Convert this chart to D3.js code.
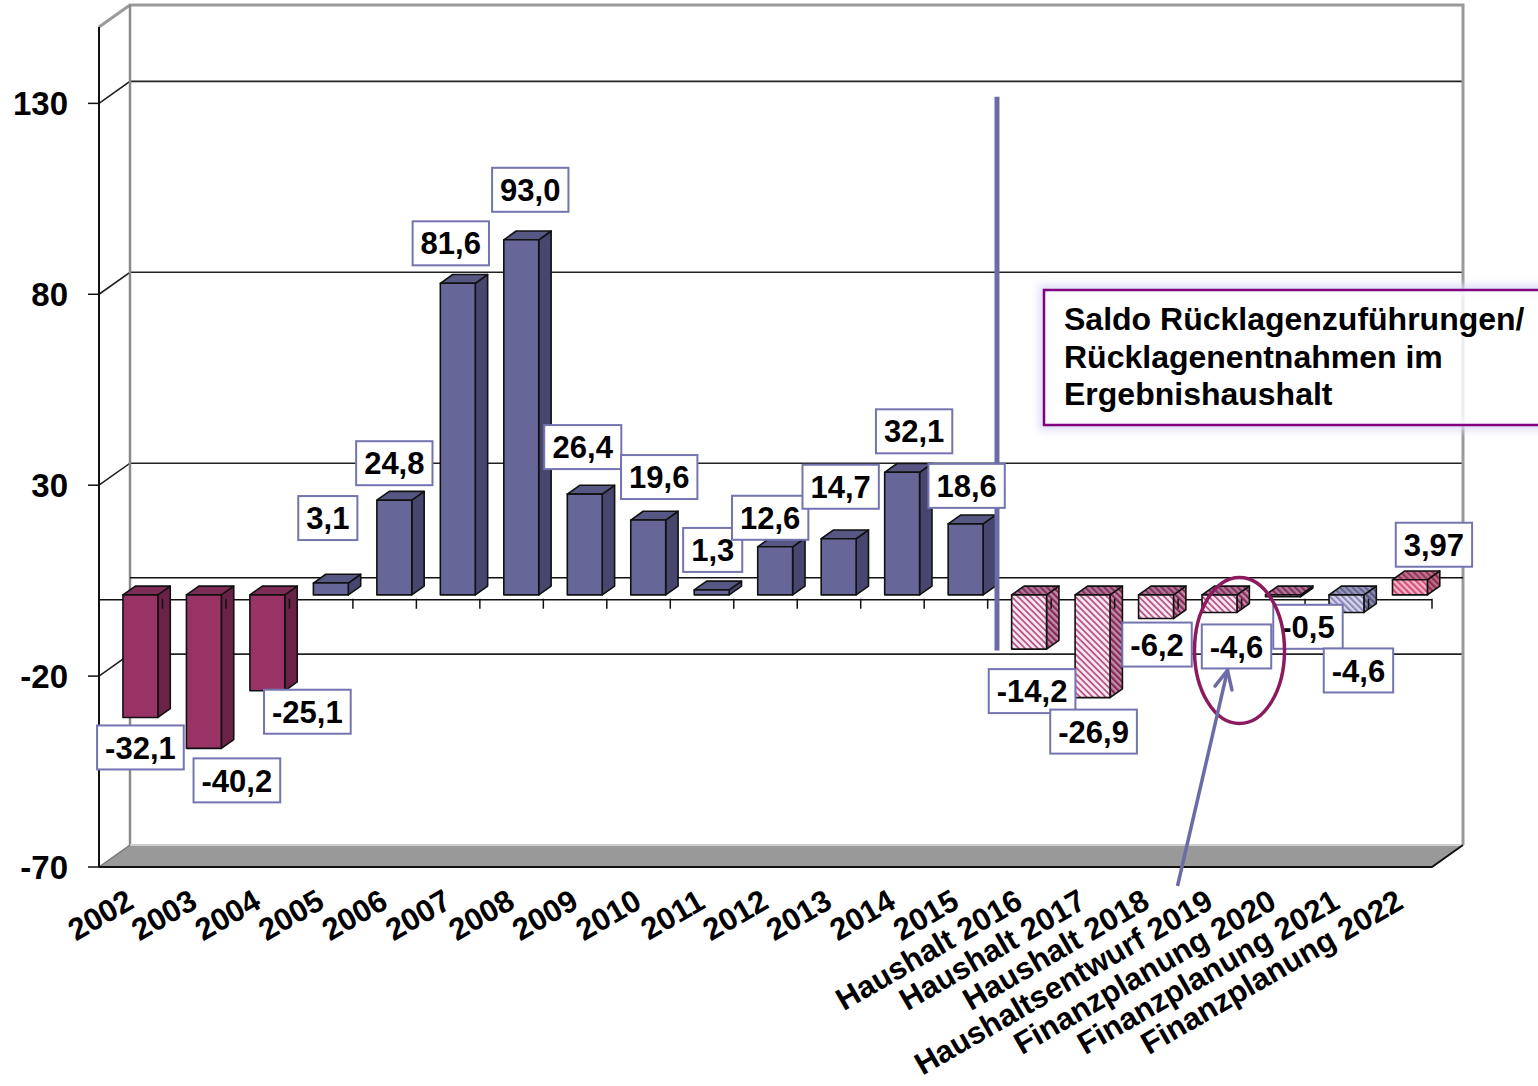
<!DOCTYPE html>
<html><head><meta charset="utf-8">
<script src="https://cdn.jsdelivr.net/npm/d3@7"></script>
<style>
body{margin:0;background:#fff}
svg{display:block}
text{font-family:"Liberation Sans",Arial,sans-serif;font-weight:bold;fill:#000}
</style>
</head><body>
<svg id="c" width="1538" height="1086"></svg>
<script>
// ---------------- DATA ----------------
const categories = ["2002","2003","2004","2005","2006","2007","2008","2009","2010","2011","2012","2013","2014","2015",
  "Haushalt 2016","Haushalt 2017","Haushalt 2018","Haushaltsentwurf 2019","Finanzplanung 2020","Finanzplanung 2021","Finanzplanung 2022"];
const values = [-32.1,-40.2,-25.1,3.1,24.8,81.6,93.0,26.4,19.6,1.3,12.6,14.7,32.1,18.6,-14.2,-26.9,-6.2,-4.6,-0.5,-4.6,3.97];
const valueLabels = ["-32,1","-40,2","-25,1","3,1","24,8","81,6","93,0","26,4","19,6","1,3","12,6","14,7","32,1","18,6",
  "-14,2","-26,9","-6,2","-4,6","-0,5","-4,6","3,97"];
const plannedCategories = ["Haushalt 2016","Haushalt 2017","Haushalt 2018","Haushaltsentwurf 2019","Finanzplanung 2020","Finanzplanung 2021","Finanzplanung 2022"];
const yTicks = [-70,-20,30,80,130];
const yDomain = [-70,150];
const legendLines = ["Saldo Rücklagenzuführungen/","Rücklagenentnahmen im","Ergebnishaushalt"];
const highlightedCategory = "Haushaltsentwurf 2019";

// ---------------- LAYOUT ----------------
const back = {left:130, right:1463, top:5, bottom:845};
const DX = -31, DY = 22;            // depth vector back -> front
const tFront = 0.78, tBack = 0.38;  // bar depth
const barL = 0.27, barR = 0.82;     // bar position inside band
// per-label nudges (px) of the label box centre relative to bar top
const labelDx = [0,33,40,-3,0,-7,9,-2,11,1,-5,2,12,1,3,1,1,17,25,12,24];
const labelDy = [30,32,21,-65,-37,-40,-50,-47,-43,-40,-29,-52,-41,-38,42,34,26,34,30,58,-35];

const svg = d3.select("#c");
const x = d3.scaleBand().domain(categories).range([back.left, back.right]);
const y = d3.scaleLinear().domain(yDomain).range([back.bottom, back.top]);
const step = x.step();
const P = (px, v, t) => [px + DX*t, y(v) + DY*t];
const pts = a => a.map(p => p.join(",")).join(" ");

// ---------------- PATTERNS ----------------
const defs = svg.append("defs");
function hatch(id, bg, fg, size, w){
  const p = defs.append("pattern").attr("id",id).attr("patternUnits","userSpaceOnUse")
    .attr("width",size).attr("height",size).attr("patternTransform","rotate(-45)");
  p.append("rect").attr("width",size).attr("height",size).attr("fill",bg);
  p.append("rect").attr("width",w).attr("height",size).attr("fill",fg);
}
hatch("pinkF","#f8e6ee","#b8588a",4.5,1.8);
hatch("pinkS","#c98aa6","#7e2d57",4.5,2.2);
hatch("pinkT","#b77796","#7d3560",4.5,2.2);
hatch("redF","#f6b8c8","#d2507a",4.5,2.2);
hatch("redS","#c26b86","#8a2f52",4.5,2.2);
hatch("redT","#c7708e","#8e3a5c",4.5,2.2);
hatch("blueF","#d8d8ec","#8a8ab8",4.5,2.2);
hatch("blueS","#8e8eb2","#585880",4.5,2.2);
hatch("blueT","#9a9ac0","#666690",4.5,2.2);
const glow = defs.append("filter").attr("id","glow").attr("x","-10%").attr("y","-20%").attr("width","120%").attr("height","140%");
glow.append("feGaussianBlur").attr("stdDeviation",4);

const styles = {
  neg:{front:"#993366",side:"#6a2347",top:"#7d2c55"},
  pos:{front:"#666699",side:"#46466e",top:"#575783"},
  plan:{front:"url(#pinkF)",side:"url(#pinkS)",top:"url(#pinkT)"},
  planBlue:{front:"url(#blueF)",side:"url(#blueS)",top:"url(#blueT)"},
  planRed:{front:"url(#redF)",side:"url(#redS)",top:"url(#redT)"}
};
function styleFor(c,v){
  if (plannedCategories.includes(c)){
    if (c === "Finanzplanung 2021") return styles.planBlue;
    if (c === "Finanzplanung 2022") return styles.planRed;
    return styles.plan;
  }
  return v < 0 ? styles.neg : styles.pos;
}

// ---------------- WALLS ----------------
const [y0,y1] = yDomain;
svg.append("rect").attr("width",1538).attr("height",1086).attr("fill","#fff");
// floor
svg.append("polygon").attr("points", pts([P(back.left,y0,0),P(back.right,y0,0),P(back.right,y0,1),P(back.left,y0,1)]))
  .attr("fill","#999999");
// gridlines
yTicks.filter(v=>v>y0).forEach(v=>{
  svg.append("polyline").attr("points", pts([P(back.left,v,1),P(back.left,v,0),P(back.right,v,0)]))
    .attr("fill","none").attr("stroke","#222").attr("stroke-width",1.6);
});
// back wall edges (grey)
svg.append("polyline").attr("points", pts([P(back.left,y1,1),P(back.left,y1,0),P(back.right,y1,0),P(back.right,y0,0)]))
  .attr("fill","none").attr("stroke","#9a9a9a").attr("stroke-width",3);
svg.append("line").attr("x1",back.left).attr("x2",back.left).attr("y1",y(y1)).attr("y2",y(y0))
  .attr("stroke","#8a8a8a").attr("stroke-width",2.5);
svg.append("line").attr("x1",back.left).attr("x2",back.right).attr("y1",y(y0)).attr("y2",y(y0))
  .attr("stroke","#cfcfcf").attr("stroke-width",2);
svg.append("line").attr("x1",P(back.left,y0,0)[0]).attr("y1",P(back.left,y0,0)[1]).attr("x2",P(back.left,y0,1)[0]).attr("y2",P(back.left,y0,1)[1])
  .attr("stroke","#777").attr("stroke-width",1.5);
// floor front edge and right diagonal
svg.append("polyline").attr("points", pts([P(back.left,y0,1),P(back.right,y0,1),P(back.right,y0,0)]))
  .attr("fill","none").attr("stroke","#111").attr("stroke-width",2);
// value axis
svg.append("line").attr("x1",back.left+DX).attr("x2",back.left+DX).attr("y1",y(y1)+DY).attr("y2",y(y0)+DY)
  .attr("stroke","#111").attr("stroke-width",2);
yTicks.forEach(v=>{
  const yy = y(v)+DY;
  svg.append("line").attr("x1",back.left+DX-11).attr("x2",back.left+DX).attr("y1",yy).attr("y2",yy).attr("stroke","#111").attr("stroke-width",1.5);
  svg.append("text").attr("x",68).attr("y",yy).attr("dy","0.36em").attr("text-anchor","end")
    .style("font-size","33px").text(v);
});
// zero plane lines
svg.append("line").attr("x1",back.left).attr("x2",back.right).attr("y1",y(0)).attr("y2",y(0)).attr("stroke","#111").attr("stroke-width",1.5);
svg.append("line").attr("x1",back.left+DX).attr("x2",back.right+DX).attr("y1",y(0)+DY).attr("y2",y(0)+DY).attr("stroke","#111").attr("stroke-width",1.5);

// ---------------- BARS ----------------
const barsG = svg.append("g");
categories.forEach((c,i)=>{
  const v = values[i], s = styleFor(c,v);
  const xl = x(c) + barL*step, xr = x(c) + barR*step;
  const vt = Math.max(v,0), vb = Math.min(v,0);
  const FLT = P(xl,vt,tFront), FRT = P(xr,vt,tFront), FRB = P(xr,vb,tFront), FLB = P(xl,vb,tFront);
  const BLT = P(xl,vt,tBack), BRT = P(xr,vt,tBack), BRB = P(xr,vb,tBack);
  const g = barsG.append("g").attr("stroke","#111").attr("stroke-width",1.6).attr("stroke-linejoin","round");
  g.append("polygon").attr("points",pts([FRT,BRT,BRB,FRB])).attr("fill",s.side);
  g.append("polygon").attr("points",pts([FLT,FRT,BRT,BLT])).attr("fill",s.top);
  g.append("polygon").attr("points",pts([FLT,FRT,FRB,FLB])).attr("fill",s.front);
});
// category ticks
d3.range(1,categories.length+1).forEach(i=>{
  const px = back.left + i*step + DX, py = y(0)+DY;
  svg.append("line").attr("x1",px).attr("x2",px).attr("y1",py-1).attr("y2",py+9).attr("stroke","#111").attr("stroke-width",1.5);
});

// divider between actuals and plan
const iPlan = categories.indexOf(plannedCategories[0]);
{
  const tDiv = 0.7, px = back.left + iPlan*step;
  const a = P(px,130,tDiv), b = P(px,-15,tDiv);
  svg.append("line").attr("x1",a[0]).attr("y1",a[1]).attr("x2",b[0]).attr("y2",b[1])
    .attr("stroke","#6b6ba6").attr("stroke-width",5);
}

// ---------------- DATA LABELS ----------------
const labelBoxes = {};
categories.forEach((c,i)=>{
  const cx = x(c) + (barL+barR)/2*step + DX*tFront + labelDx[i];
  const cy = y(values[i]) + DY*tFront + labelDy[i];
  const g = svg.append("g");
  const r = g.append("rect");
  const t = g.append("text").attr("x",cx).attr("y",cy).attr("dy","0.36em").attr("text-anchor","middle")
    .style("font-size","31px").text(valueLabels[i]);
  const bb = t.node().getBBox();
  const w = bb.width + 16, h = 44;
  r.attr("x",cx-w/2).attr("y",cy-h/2).attr("width",w).attr("height",h)
    .attr("fill","#fff").attr("stroke","#7474b0").attr("stroke-width",2);
  labelBoxes[c] = {cx,cy,w,h};
});

// ---------------- LEGEND / TITLE BOX ----------------
{
  const lx = 1044, ly = 290, lw = 520, lh = 135;
  svg.append("rect").attr("x",lx).attr("y",ly).attr("width",lw).attr("height",lh)
    .attr("fill","none").attr("stroke","#dcdcf6").attr("stroke-width",10).attr("filter","url(#glow)");
  svg.append("rect").attr("x",lx).attr("y",ly).attr("width",lw).attr("height",lh)
    .attr("fill","#fff").attr("fill-opacity",0.82).attr("stroke","#800080").attr("stroke-width",2.5);
  legendLines.forEach((s,k)=>{
    svg.append("text").attr("x",lx+20).attr("y",ly+40+k*37.5).style("font-size","32px").text(s);
  });
}

// ---------------- HIGHLIGHT ELLIPSE + ARROW ----------------
{
  const b = labelBoxes[highlightedCategory];
  svg.append("ellipse").attr("cx",b.cx+3).attr("cy",b.cy+4).attr("rx",45).attr("ry",73)
    .attr("fill","none").attr("stroke","#8c1a5e").attr("stroke-width",3.5);
  const tip = [b.cx-9, b.cy+b.h/2+2];
  const tail = [tip[0]-50, y(y0)+DY+19];
  const col = "#6b6ba6";
  svg.append("line").attr("x1",tail[0]).attr("y1",tail[1]).attr("x2",tip[0]).attr("y2",tip[1])
    .attr("stroke",col).attr("stroke-width",3.5);
  const ang = Math.atan2(tail[1]-tip[1], tail[0]-tip[0]);
  [0.45,-0.45].forEach(da=>{
    svg.append("line").attr("x1",tip[0]).attr("y1",tip[1])
      .attr("x2",tip[0]+20*Math.cos(ang+da)).attr("y2",tip[1]+20*Math.sin(ang+da))
      .attr("stroke",col).attr("stroke-width",3.5).attr("stroke-linecap","round");
  });
}

// ---------------- CATEGORY LABELS ----------------
categories.forEach(c=>{
  const cx = x(c) + step/2 + DX;
  svg.append("text").attr("transform",`translate(${cx+5},${y(y0)+DY+40}) rotate(-30)`)
    .attr("text-anchor","end").style("font-size","31px").text(c);
});
</script>
</body></html>
